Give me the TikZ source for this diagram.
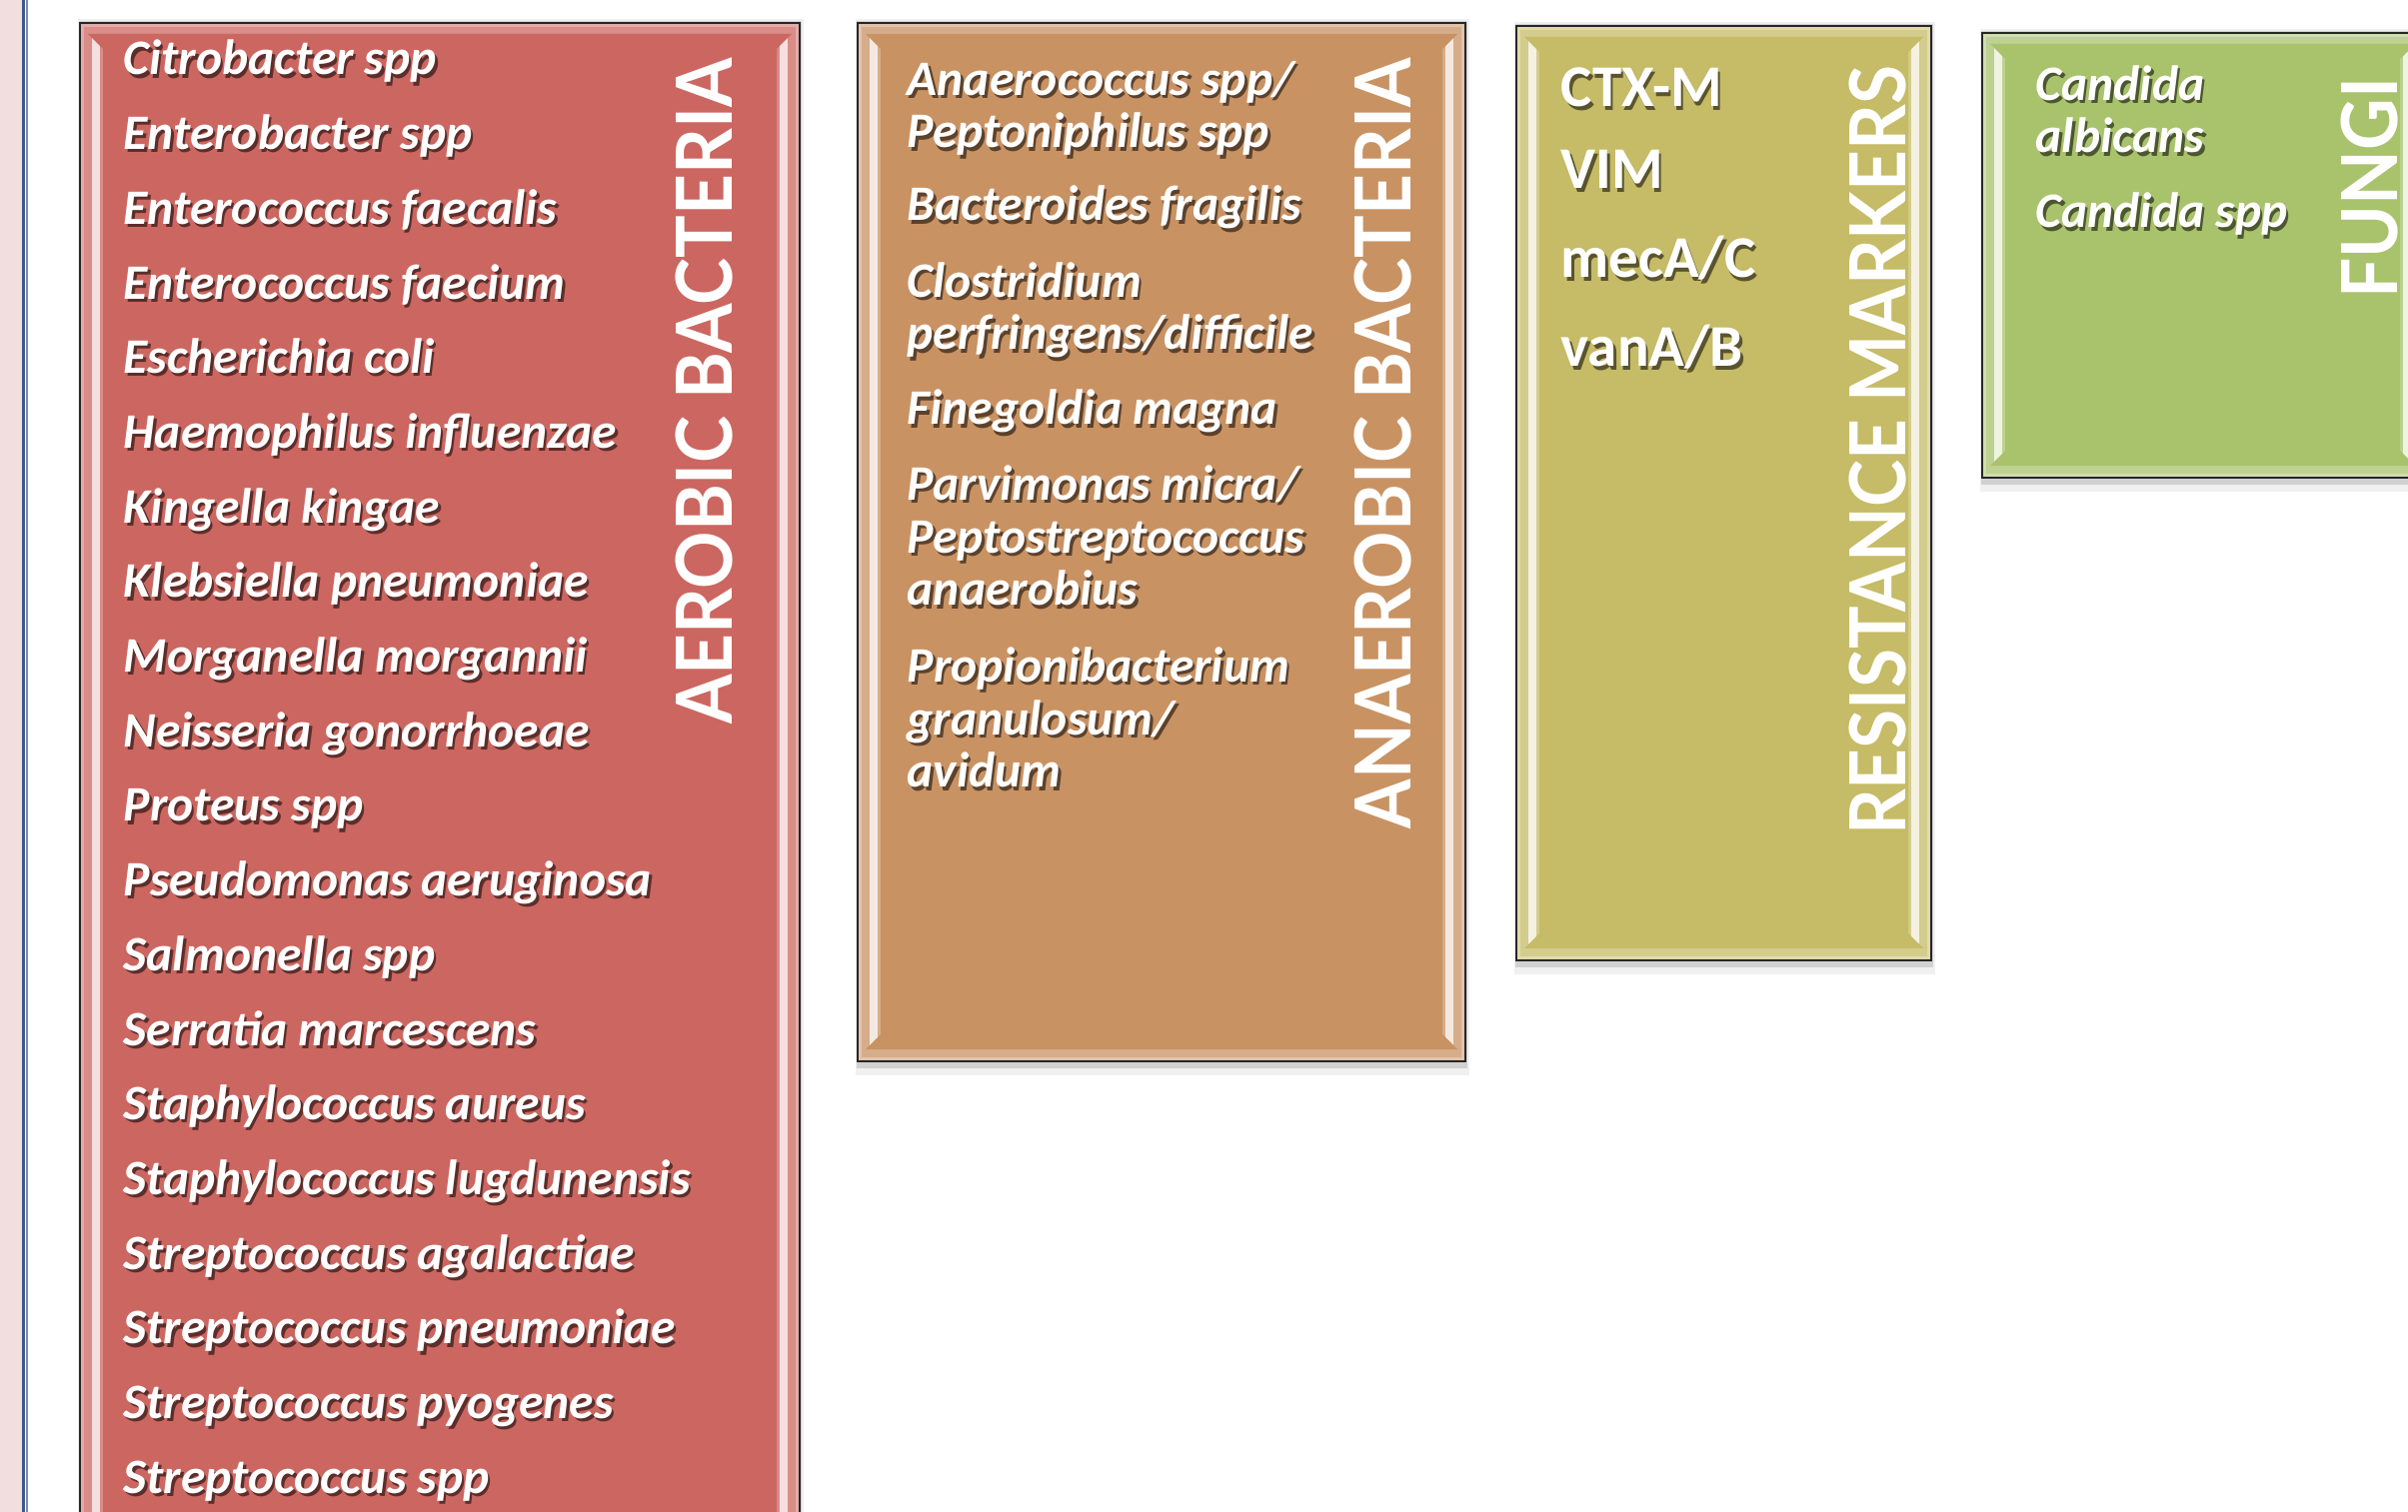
\documentclass[tikz,border=0pt]{standalone}
\usepackage{fontspec}
\setmainfont{Carlito}
\newfontfamily\headfont{Lato}[FakeStretch=0.92]
\usepackage{xcolor}

\definecolor{aerored}{RGB}{204,102,96}
\definecolor{anaerobrown}{RGB}{201,146,99}
\definecolor{markerolive}{RGB}{198,187,102}
\definecolor{fungigreen}{RGB}{169,194,108}
\definecolor{marginpink}{RGB}{242,222,223}
\definecolor{ruleblue}{RGB}{62,88,140}

% bevelled panel: x1, y1, x2, y2, colour
\newcommand{\panel}[5]{%
  \fill[black!6] (#1-2,#2-4) rectangle (#3+4,#4+14);
  \fill[black!18] (#1-1,#2-2) rectangle (#3+2,#4+7);
  \fill[#5!55!white] (#1,#2) rectangle (#3,#4);
  \fill[#5!75!white] (#1+4,#2+4) rectangle (#3-4,#4-4);
  \fill[#5!20!white] (#1+12,#2+12) rectangle (#1+20,#4-12);
  \fill[#5!20!white] (#3-20,#2+12) rectangle (#3-12,#4-12);
  \fill[#5] (#1+8,#2+11) -- (#3-8,#2+11) -- (#3-23,#2+26) -- (#3-23,#4-27)
    -- (#3-8,#4-12) -- (#1+8,#4-12) -- (#1+23,#4-27) -- (#1+23,#2+26) -- cycle;
  \draw[black!85,line width=0.8pt] (#1,#2) rectangle (#3,#4);
}
% white text with a dark drop shadow
\newcommand{\shd}[1]{\makebox[0pt][l]{\hspace{0.7pt}\raisebox{-0.9pt}{\color{txtshadow}#1}}#1}

\begin{document}
\begin{tikzpicture}[x=0.01cm,y=-0.01cm,
    entry/.style={text=white,anchor=base west,inner sep=0pt,align=left,
      font=\fontsize{14.1}{15}\selectfont\bfseries\itshape},
    marker/.style={text=white,anchor=base west,inner sep=0pt,
      font=\fontsize{16.8}{18}\selectfont\bfseries},
    heading/.style={text=white,rotate=90,anchor=base east,inner sep=0pt,
      font=\headfont\fontsize{22}{22}\selectfont\bfseries}]
\clip (0,0) rectangle (2409,1513);
\fill[white] (0,0) rectangle (2409,1513);
\fill[marginpink] (0,0) rectangle (22,1513);
\draw[ruleblue,line width=0.6pt] (23.5,0) -- (23.5,1513);
\draw[ruleblue!70,line width=0.6pt] (27,0) -- (27,1513);

\panel{80}{23}{800}{1545}{aerored}
\panel{858}{23}{1466}{1062}{anaerobrown}
\panel{1517}{26}{1932}{961}{markerolive}
\panel{1983}{33}{2424}{478}{fungigreen}

\colorlet{txtshadow}{aerored!45!black}
\foreach \name [count=\i from 0] in {Citrobacter spp, Enterobacter spp,
    Enterococcus faecalis, Enterococcus faecium, Escherichia coli,
    Haemophilus influenzae, Kingella kingae, Klebsiella pneumoniae,
    Morganella morgannii, Neisseria gonorrhoeae, Proteus spp,
    Pseudomonas aeruginosa, Salmonella spp, Serratia marcescens,
    Staphylococcus aureus, Staphylococcus lugdunensis,
    Streptococcus agalactiae, Streptococcus pneumoniae,
    Streptococcus pyogenes, Streptococcus spp}
  \node[entry] (aer\i) at (123,75+\i*74.7) {\shd{\name}};
\node[heading] (aerobic) at (732,58) {AEROBIC BACTERIA};

% multi-line entries sit on their last baseline
\colorlet{txtshadow}{anaerobrown!45!black}
\node[entry] (ana1) at (907,148) {\shd{Anaerococcus spp/}\\\shd{Peptoniphilus spp}};
\node[entry] (ana2) at (907,221) {\shd{Bacteroides fragilis}};
\node[entry] (ana3) at (907,350) {\shd{Clostridium}\\\shd{perfringens/difficile}};
\node[entry] (ana4) at (907,425) {\shd{Finegoldia magna}};
\node[entry] (ana5) at (907,606) {\shd{Parvimonas micra/}\\\shd{Peptostreptococcus}\\\shd{anaerobius}};
\node[entry] (ana6) at (907,788) {\shd{Propionibacterium}\\\shd{granulosum/}\\\shd{avidum}};
\node[heading] (anaerobic) at (1411,58) {ANAEROBIC BACTERIA};

\colorlet{txtshadow}{markerolive!45!black}
\node[marker] (ctx) at (1561,107) {\shd{CTX-M}};
\node[marker] (vim) at (1561,189) {\shd{VIM}};
\node[marker] (mec) at (1561,278) {\shd{mecA/C}};
\node[marker] (van) at (1561,367) {\shd{vanA/B}};
\node[heading] (resist) at (1906,65) {RESISTANCE MARKERS};

\colorlet{txtshadow}{fungigreen!45!black}
\node[entry] (cand1) at (2036,153) {\shd{Candida}\\\shd{albicans}};
\node[entry] (cand2) at (2036,228) {\shd{Candida spp}};
\node[heading] (fungi) at (2398,77) {FUNGI};
\end{tikzpicture}
\end{document}
